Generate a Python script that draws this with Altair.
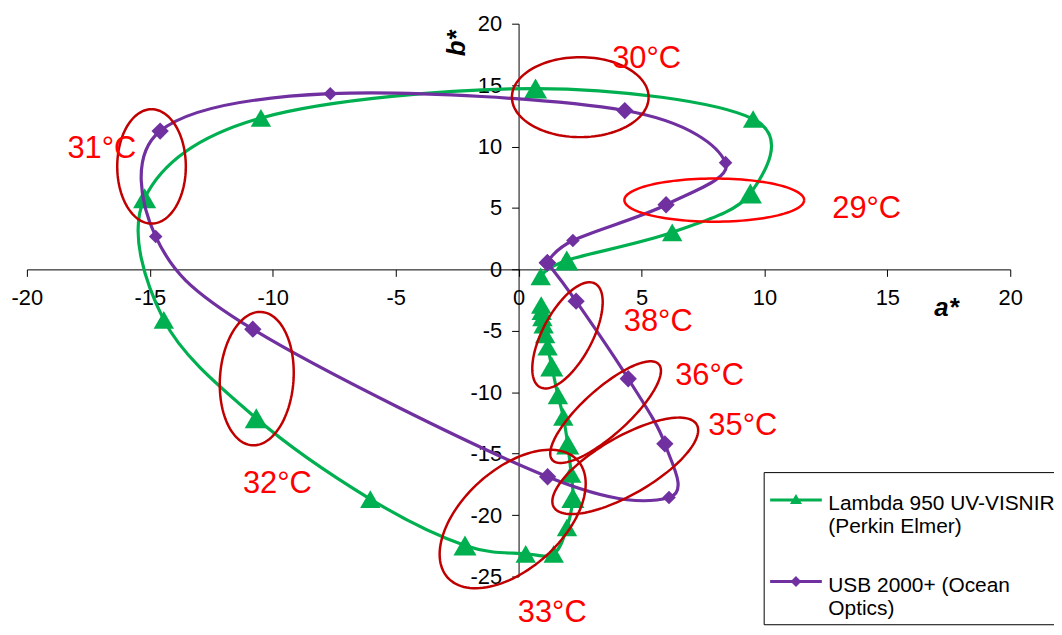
import json
import numpy as np
import pandas as pd
import altair as alt

FONT = "Liberation Sans"

# ---------------- data ----------------
SERIES = ["Lambda 950 UV-VISNIR (Perkin Elmer)", "USB 2000+ (Ocean Optics)"]
LEGEND_LINES = [["Lambda 950 UV-VISNIR", "(Perkin Elmer)"], ["USB 2000+ (Ocean", "Optics)"]]
COLORS = ["#00B050", "#7030A0"]

green_a = [0.90, 1.96, 6.25, 9.43, 9.54, 0.69, -10.48, -15.21, -14.43, -10.67, -6.03, -2.18, 0.29, 1.43,
           1.97, 2.21, 2.14, 2.00, 1.82, 1.60, 1.35, 1.18, 1.08, 1.02, 0.97, 0.94, 0.92]
green_b = [-0.57, 0.73, 3.02, 6.18, 12.24, 14.72, 12.33, 5.79, -4.11, -12.12, -18.70, -22.48, -23.15, -23.15,
           -21.00, -18.60, -16.65, -14.25, -12.00, -10.25, -7.90, -6.30, -5.30, -4.50, -3.90, -3.40, -2.90]
green_big = [0, 1, 0, 1, 0, 1, 0, 1, 0, 1, 0, 1, 0, 0, 0, 1, 0, 1, 0, 0, 1, 0, 0, 0, 0, 0, 0]

purple_a = [1.17, 2.21, 6.00, 8.42, 4.32, -7.66, -14.58, -14.76, -10.81, 1.18, 6.12, 5.95, 4.46, 2.34, 1.17]
purple_b = [0.54, 2.35, 5.26, 8.69, 12.93, 14.30, 11.26, 2.67, -4.87, -16.88, -18.57, -14.20, -8.90, -2.59, 0.54]
purple_big = [1, 0, 1, 0, 1, 0, 1, 0, 1, 1, 0, 1, 1, 1, 1]

# temperature annotations
TEMP_LABELS = ["29°C", "30°C", "31°C", "32°C", "33°C", "35°C", "36°C", "38°C"]
temp_a = [14.16, 5.21, -16.95, -9.81, 1.37, 9.12, 7.77, 5.68]
temp_b = [4.91, 17.14, 9.77, -17.49, -28.0, -12.77, -8.72, -4.27]

# ellipses: centre (a, b), semi-axes in px, rotation in degrees, colour
ELL_NAME = ["29", "30", "31", "32", "33", "35", "36", "38"]
ell_a = [7.96, 2.51, -14.93, -10.65, -0.24, 4.34, 3.54, 1.99]
ell_b = [5.64, 14.02, 8.38, -8.89, -20.32, -15.99, -11.62, -5.37]
ell_major = [90.4, 68.75, 57.5, 67.2, 88.0, 83.0, 72.0, 59.0]
ell_minor = [21.7, 40.2, 34.5, 37.0, 50.0, 29.0, 23.0, 25.0]
ell_rot = [0, 0, 90, 86, 42, 30, 42, 62]
ell_col = ["#FF0000", "#C00000", "#C00000", "#C00000", "#C00000", "#C00000", "#C00000", "#C00000"]

X_TICKS = list(range(-20, 21, 5))
Y_TICKS = list(range(-25, 21, 5))

# ---------------- geometry ----------------
W, H = 989, 556
PX_A = W / 40.0
PX_B = H / 45.0

rows = []
for s, aa, bb, big, mk in [(SERIES[0], green_a, green_b, green_big, "tri"),
                           (SERIES[1], purple_a, purple_b, purple_big, "dia")]:
    for i, (x, y, g) in enumerate(zip(aa, bb, big)):
        rows.append(dict(series=s, a=x, b=y, idx=i, mk=mk, sz=mk + ("_big" if g else "_small")))
df = pd.DataFrame(rows)

erows = []
tt = np.linspace(0, 2 * np.pi, 121)
for n, ca, cb, A, B, r, c in zip(ELL_NAME, ell_a, ell_b, ell_major, ell_minor, ell_rot, ell_col):
    th = np.deg2rad(r)
    dx = A * np.cos(tt) * np.cos(th) - B * np.sin(tt) * np.sin(th)
    dy = A * np.cos(tt) * np.sin(th) + B * np.sin(tt) * np.cos(th)
    for k, (u, v) in enumerate(zip(dx, dy)):
        erows.append(dict(eid=n, k=k, a=ca + u / PX_A, b=cb + v / PX_B, col=c))
edf = pd.DataFrame(erows)

tdf = pd.DataFrame(dict(text=TEMP_LABELS, a=temp_a, b=temp_b))
adf = pd.DataFrame(dict(text=["a*"], a=[17.41], b=[-3.11]))
bdf = pd.DataFrame(dict(text=["b*"], a=[-2.52], b=[18.4]))

# ---------------- encodings ----------------
axis_common = dict(title=None, grid=False, domainColor="black", domainWidth=1, tickColor="black",
                   tickSize=7, labelFont=FONT, labelFontSize=22, labelColor="black",
                   labelOverlap=False, labelFlush=False, labelExpr="datum.value + ''")
X = alt.X("a:Q", scale=alt.Scale(domain=[-20, 20], nice=False, zero=False),
          axis=alt.Axis(values=X_TICKS, offset=-(H - H * 20 / 45.0), labelPadding=11, **axis_common))
Y = alt.Y("b:Q", scale=alt.Scale(domain=[-25, 20], nice=False, zero=False),
          axis=alt.Axis(values=Y_TICKS, offset=-(W * 20 / 40.0), labelPadding=10, **axis_common))

DOM = SERIES + ["tri", "dia"]
LEG_PATHS = [
    "M-1,-0.17L1,-0.17M0,-0.29L0.13,-0.07L-0.13,-0.07Z",
    "M-1,-0.17L1,-0.17M0,-0.30L0.13,-0.17L0,-0.04L-0.13,-0.17Z",
]
color_scale = alt.Scale(domain=DOM, range=COLORS + COLORS)
shape_scale = alt.Scale(domain=DOM, range=LEG_PATHS + ["triangle-up", "diamond"])
size_scale = alt.Scale(domain=["tri_big", "tri_small", "dia_big", "dia_small"], range=[540, 185, 600, 235])

label_expr = "datum.label == {} ? {} : {}".format(
    json.dumps(SERIES[0]), json.dumps(LEGEND_LINES[0]), json.dumps(LEGEND_LINES[1]))
legend = alt.Legend(title=None, orient="none", legendX=741, legendY=451, padding=5,
                    strokeColor="black", fillColor="white", symbolSize=2704, symbolStrokeWidth=3,
                    labelFont=FONT, labelFontSize=21, labelColor="black", labelOffset=5,
                    labelLimit=600, rowPadding=21, values=SERIES, labelExpr=label_expr)

# legend-only layer (draws no marks; must come first so its legend wins the merge)
legend_layer = alt.Chart(df).transform_filter("false").mark_point(
    filled=False, opacity=1, strokeWidth=3).encode(
    x=X, y=Y,
    color=alt.Color("series:N", scale=color_scale, legend=legend),
    shape=alt.Shape("series:N", scale=shape_scale, legend=legend))

layers = [legend_layer]
for s in SERIES:
    sub = alt.Chart(df).transform_filter(alt.datum.series == s)
    layers.append(sub.mark_line(interpolate="cardinal", tension=0, strokeWidth=3.2).encode(
        x=X, y=Y, color=alt.Color("series:N", scale=color_scale, legend=None), order=alt.Order("idx:Q")))
    layers.append(sub.mark_point(filled=True, opacity=1).encode(
        x=X, y=Y, color=alt.Color("series:N", scale=color_scale, legend=None),
        shape=alt.Shape("mk:N", scale=shape_scale, legend=None),
        size=alt.Size("sz:N", scale=size_scale, legend=None)))

ellipses = alt.Chart(edf).mark_line(strokeWidth=2.5).encode(
    x=X, y=Y, detail="eid:N", order=alt.Order("k:Q"), stroke=alt.Stroke("col:N", scale=None))

temps = alt.Chart(tdf).mark_text(font=FONT, fontSize=31, color="#FF0000", align="center",
                                 baseline="middle").encode(x=X, y=Y, text="text:N")
atitle = alt.Chart(adf).mark_text(font=FONT, fontSize=26, fontStyle="italic", fontWeight="bold",
                                  color="black", align="center", baseline="middle").encode(
    x=X, y=Y, text="text:N")
btitle = alt.Chart(bdf).mark_text(font=FONT, fontSize=26, fontStyle="italic", fontWeight="bold",
                                  color="black", align="center", baseline="middle", angle=270).encode(
    x=X, y=Y, text="text:N")

chart = alt.layer(*layers, ellipses, temps, atitle, btitle).properties(
    width=W, height=H,
    padding={"left": 19, "top": 14, "right": 44, "bottom": 49},
    autosize=alt.AutoSizeParams(type="none"),
    background="white",
).configure_view(stroke=None)

chart.save("out.html", embed_options={"renderer": "svg", "actions": False})
